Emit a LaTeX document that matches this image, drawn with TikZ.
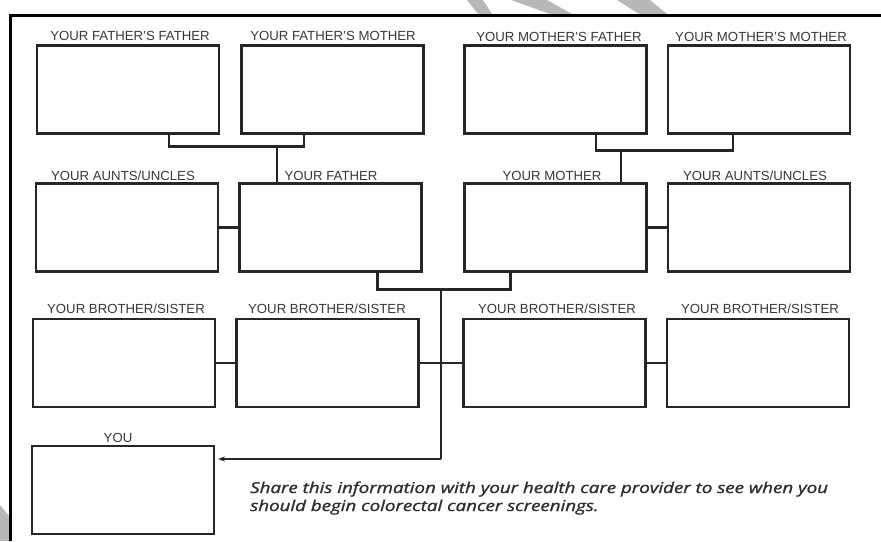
\documentclass[tikz,border=0pt]{standalone}
\usepackage{graphicx}
\usepackage{fontspec}
\setmainfont{Liberation Sans}
\newfontfamily\notefont[ItalicFeatures={FakeBold=1.2}]{Open Sans}
\usetikzlibrary{arrows.meta}
\begin{document}
\begin{tikzpicture}[x=1pt,y=-1pt,
  famBox/.style={draw=black!85, line width=2.4pt, minimum width=182pt, minimum height=88pt, inner sep=0pt, outer sep=0pt},
  conn/.style={draw=black!85, line width=2.2pt},
  lab/.style={anchor=base, inner sep=0pt, text=black!78, font=\fontsize{13.2}{15}\selectfont},
  note/.style={anchor=base west, inner sep=0pt, text=black!82, font=\notefont\itshape\fontsize{15}{17}\selectfont},
  frameline/.style={draw=black, line width=3pt},
  wmark/.style={fill=black!28, draw=none}]
\useasboundingbox (0,0) rectangle (881,541);
% watermark fragments
\fill[wmark] (467,0) -- (483,0) -- (492,14) -- (478,14) -- cycle;
\fill[wmark] (511,0) -- (547,0) -- (572,14) -- (550,14) -- cycle;
\fill[wmark] (617,0) -- (650,0) -- (667,14) -- (639,14) -- cycle;
\fill[wmark] (0,505) -- (9,516) -- (9,541) -- (0,541) -- cycle;
% frame
\draw[frameline] (10,541) -- (10,15) -- (881,15);
% row 1
\node[famBox] (ff) at (128,89.5) {};
\node[famBox] (fm) at (332.5,89.5) {};
\node[famBox] (mf) at (555.5,89.5) {};
\node[famBox] (mm) at (759,89.5) {};
% row 2
\node[famBox] (au1) at (127,227.5) {};
\node[famBox] (fa) at (330.5,227.5) {};
\node[famBox] (mo) at (555.5,227.5) {};
\node[famBox] (au2) at (759,227.5) {};
% row 3
\node[famBox] (bs1) at (124,363) {};
\node[famBox] (bs2) at (327.5,363) {};
\node[famBox] (bs3) at (554.5,363) {};
\node[famBox] (bs4) at (758,363) {};
% you
\node[famBox] (you) at (123,490) {};
% labels
\node[lab] (lff) at (130,40) {YOUR FATHER'S FATHER};
\node[lab] (lfm) at (333,40) {YOUR FATHER'S MOTHER};
\node[lab] (lmf) at (559,41) {YOUR MOTHER'S FATHER};
\node[lab] (lmm) at (761,41) {YOUR MOTHER'S MOTHER};
\node[lab] (lau1) at (123,180) {YOUR AUNTS/UNCLES};
\node[lab] (lfa) at (331,180) {YOUR FATHER};
\node[lab] (lmo) at (552,180) {YOUR MOTHER};
\node[lab] (lau2) at (755,180) {YOUR AUNTS/UNCLES};
\node[lab] (lbs1) at (126,313) {YOUR BROTHER/SISTER};
\node[lab] (lbs2) at (327,313) {YOUR BROTHER/SISTER};
\node[lab] (lbs3) at (557,313) {YOUR BROTHER/SISTER};
\node[lab] (lbs4) at (760,313) {YOUR BROTHER/SISTER};
\node[lab] (lyou) at (118,442) {YOU};
% grandparents to parents
\draw[conn] ([xshift=41pt]ff.south) -- ++(0,13) -| ([xshift=-28.5pt]fm.south);
\draw[conn] ([xshift=-53.5pt]fa.north) -- ++(0,-37);
\draw[conn] ([xshift=40.5pt]mf.south) -- ++(0,17) -| ([xshift=-26pt]mm.south);
\draw[conn] ([xshift=65.5pt]mo.north) -- ++(0,-33);
% siblings of parents
\draw[conn] (au1.east) -- (fa.west);
\draw[conn] (mo.east) -- (au2.west);
% parents to children
\coordinate (fork) at (441,289);
\coordinate (turn) at (441,459);
\draw[conn] ([xshift=47pt]fa.south) -- ++(0,18) -| ([xshift=-45pt]mo.south);
\draw[conn] (fork) -- (turn);
\draw[conn, -{Stealth[length=7pt,width=5pt]}] (turn) -- ([yshift=31pt,xshift=4pt]you.east);
\draw[conn] (bs1.east) -- (bs2.west);
\draw[conn] (bs2.east) -- (bs3.west);
\draw[conn] (bs3.east) -- (bs4.west);
% note
\node[note] (note1) at (250,493) {\scalebox{1.25}[1]{Share this information with your health care provider to see when you}};
\node[note] (note2) at (250,511) {\scalebox{1.25}[1]{should begin colorectal cancer screenings.}};
\end{tikzpicture}
\end{document}
